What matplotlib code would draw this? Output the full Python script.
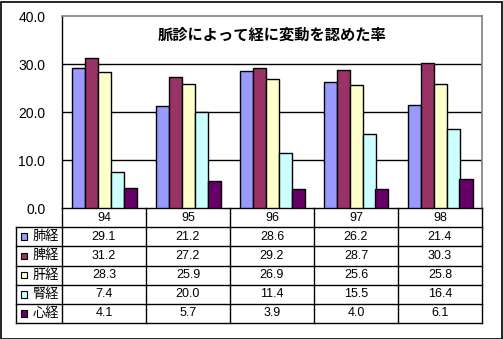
import matplotlib
matplotlib.use("Agg")
import matplotlib.pyplot as plt
from matplotlib.patches import Rectangle

years = ["94", "95", "96", "97", "98"]
series_names = ["肺経", "脾経", "肝経", "腎経", "心経"]
lung = [29.1, 21.2, 28.6, 26.2, 21.4]
spleen = [31.2, 27.2, 29.2, 28.7, 30.3]
liver = [28.3, 25.9, 26.9, 25.6, 25.8]
kidney = [7.4, 20.0, 11.4, 15.5, 16.4]
heart = [4.1, 5.7, 3.9, 4.0, 6.1]
series_values = [lung, spleen, liver, kidney, heart]
colors = ["#9999FF", "#993366", "#FFFFCC", "#CCFFFF", "#660066"]
yticks = [0, 10, 20, 30, 40]
title = "脈診によって経に変動を認めた率"

W, H = 503, 339
fig = plt.figure(figsize=(W / 100, H / 100), dpi=100)
fig.patch.set_facecolor("white")

jp = ["Noto Sans CJK JP", "DejaVu Sans"]
num = ["Liberation Sans", "DejaVu Sans"]

def fx(px):
    return px / W

def fy(py):
    return 1 - py / H

# outer border
fig.add_artist(Rectangle((0.5 / W, 0.5 / H), 1 - 2.0 / W, 1 - 2.0 / H,
                         transform=fig.transFigure, fill=False,
                         edgecolor="black", lw=1.2))

# bar axes
L, R, T, B = 62, 482, 16, 208
ax = fig.add_axes([fx(L), fy(B), fx(R) - fx(L), fy(T) - fy(B)])
n = len(series_values)
bw = 13 / 84
xs = list(range(len(years)))
for i, (vals, c) in enumerate(zip(series_values, colors)):
    off = (i - (n - 1) / 2) * bw
    ax.bar([x + off for x in xs], vals, width=bw, color=c,
           edgecolor="black", linewidth=1.0, zorder=3)
ax.set_xlim(-0.5, len(years) - 0.5)
ax.set_ylim(0, 40)
ax.set_yticks(yticks)
ax.set_yticklabels([f"{v:.1f}" for v in yticks], fontfamily=num, fontsize=10)
ax.tick_params(axis="y", length=0, pad=12)
ax.set_xticks([])
for v in yticks[1:-1]:
    ax.axhline(v, color="black", lw=1.0, zorder=1)
for s in ["top", "right"]:
    ax.spines[s].set_color("#808080")
    ax.spines[s].set_linewidth(1.2)
ax.spines["left"].set_color("black")
ax.spines["bottom"].set_color("black")
ax.spines["left"].set_linewidth(1.0)
ax.spines["bottom"].set_linewidth(1.0)
ax.text(0.5, (B - 35) / (B - T), title, transform=ax.transAxes,
        ha="center", va="center", fontfamily=jp, fontsize=11,
        fontweight="bold", zorder=5)

# table axes
TL, TB = 16, 323
tax = fig.add_axes([fx(TL), fy(TB), fx(R) - fx(TL), fy(B) - fy(TB)])
tax.set_xlim(-0.5 - (L - TL) / 84, len(years) - 0.5)
nrows = n + 1
tax.set_ylim(nrows, 0)
tax.axis("off")
x0 = -0.5
xl = -0.5 - (L - TL) / 84
x1 = len(years) - 0.5
lw = 1.0
for j in range(len(years) + 1):
    tax.plot([x0 + j, x0 + j], [0, nrows], color="black", lw=lw, clip_on=False)
tax.plot([xl, xl], [1, nrows], color="black", lw=lw, clip_on=False)
for r in range(1, nrows + 1):
    tax.plot([xl, x1], [r, r], color="black", lw=lw, clip_on=False)
for j, yr in enumerate(years):
    tax.text(j, 0.5, yr, ha="center", va="center", fontfamily=num, fontsize=9)
for i, (name, vals, c) in enumerate(zip(series_names, series_values, colors)):
    r = i + 1.5
    tax.add_patch(Rectangle((xl + 5 / 84, r - 0.17), 6 / 84, 0.34,
                            facecolor=c, edgecolor="black", lw=0.8,
                            clip_on=False))
    tax.text(xl + 17 / 84, r, name, ha="left", va="center",
             fontfamily=jp, fontsize=9.5)
    for j, v in enumerate(vals):
        tax.text(j, r, f"{v:.1f}", ha="center", va="center",
                 fontfamily=num, fontsize=9)

fig.savefig("out.png", dpi=100)
